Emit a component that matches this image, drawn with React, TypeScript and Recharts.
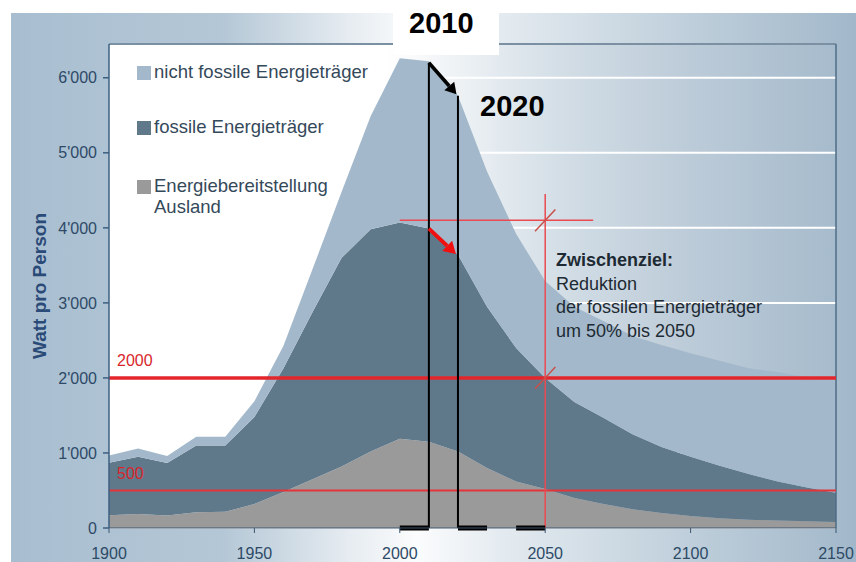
import { AreaChart, Area, XAxis, YAxis, CartesianGrid, ReferenceLine, Legend } from 'recharts';

// Watt pro Person, one point every 10 years
const years = [
  1900, 1910, 1920, 1930, 1940, 1950, 1960, 1970, 1980, 1990, 2000, 2010, 2020,
  2030, 2040, 2050, 2060, 2070, 2080, 2090, 2100, 2110, 2120, 2130, 2140, 2150,
];
const auslandValues = [
  170, 185, 165, 210, 215, 320, 480, 650, 820, 1020, 1190, 1150, 1020,
  800, 620, 520, 400, 320, 250, 200, 160, 130, 110, 100, 90, 80,
];
const fossilValues = [
  700, 765, 700, 890, 885, 1160, 1650, 2230, 2780, 2960, 2880, 2840, 2620,
  2150, 1780, 1480, 1280, 1150, 1000, 880, 790, 700, 610, 520, 450, 390,
];
const nichtFossilValues = [
  95, 110, 95, 115, 115, 210, 300, 570, 880, 1510, 2190, 2230, 2120,
  1800, 1520, 1290, 1270, 1290, 1310, 1360, 1380, 1400, 1410, 1460, 1470, 1510,
];

const xTicks = [1900, 1950, 2000, 2050, 2100, 2150];
const yTicks = [0, 1000, 2000, 3000, 4000, 5000, 6000];
const yMax = 6450;

// targets / annotations
const target2000 = 2000;
const target500 = 500;
const fossilPeak = 4100;
const year2010 = 2010;
const year2020 = 2020;
const year2050 = 2050;

const data = years.map((year, i) => ({
  year,
  ausland: auslandValues[i],
  fossil: fossilValues[i],
  nichtFossil: nichtFossilValues[i],
}));

const series = [
  { key: 'ausland', name: 'Energiebereitstellung Ausland', color: '#9b9a9a' },
  { key: 'fossil', name: 'fossile Energieträger', color: '#5f798b' },
  { key: 'nichtFossil', name: 'nicht fossile Energieträger', color: '#a3b9cb' },
];

const FONT = "'Liberation Sans', Arial, sans-serif";
const RED = '#e3262c';

const fmt = (v: number) => String(v).replace(/\B(?=(\d{3})+(?!\d))/g, "'");

function arrowShape(color: string, width: number, head: number) {
  return (p: any) => {
    const { x1, y1, x2, y2 } = p;
    const a = Math.atan2(y2 - y1, x2 - x1);
    const bx = x2 - head * Math.cos(a);
    const by = y2 - head * Math.sin(a);
    const w = head * 0.6;
    const pts = [
      [x2, y2],
      [bx + w * Math.sin(a), by - w * Math.cos(a)],
      [bx - w * Math.sin(a), by + w * Math.cos(a)],
    ]
      .map((q) => q.join(','))
      .join(' ');
    return (
      <g>
        <line x1={x1} y1={y1} x2={bx} y2={by} stroke={color} strokeWidth={width} />
        <polygon points={pts} fill={color} />
      </g>
    );
  };
}

const redLabel = (text: string, dy: number) => (props: any) => {
  const vb = props.viewBox || {};
  return (
    <text x={vb.x + 8} y={vb.y + dy} fill="#d8262c" fontSize={16} fontFamily={FONT}>
      {text}
    </text>
  );
};

const legendRows = [
  { name: 'nicht fossile Energieträger', color: '#a3b9cb', height: 55 },
  { name: 'fossile Energieträger', color: '#5f798b', height: 59 },
  { name: 'Energiebereitstellung\nAusland', color: '#9b9a9a', height: 44 },
];

function LegendContent() {
  return (
    <div style={{ fontFamily: FONT, fontSize: 18.5, lineHeight: '21px', color: '#34495a' }}>
      {legendRows.map((r) => (
        <div key={r.name} style={{ display: 'flex', alignItems: 'flex-start', height: r.height }}>
          <div style={{ width: 14, height: 14, marginTop: 5, marginRight: 3, background: r.color }} />
          <div style={{ whiteSpace: 'pre' }}>{r.name}</div>
        </div>
      ))}
    </div>
  );
}

export default function App() {
  return (
    <div style={{ position: 'absolute', left: 0, top: 0, width: 856, height: 562, background: '#fff', overflow: 'hidden' }}>
      <div
        style={{
          position: 'absolute',
          left: 11,
          top: 13,
          width: 845,
          height: 549,
          background:
            'linear-gradient(90deg, #a8bed0 0%, #b4c7d6 25%, #e6ecf1 40%, #fbfcfd 48%, #e4ebf0 58%, #bfcfdb 80%, #a2b8ca 100%)',
        }}
      />
      <div style={{ position: 'absolute', left: 0, top: 0 }}>
        <AreaChart width={856} height={562} data={data} margin={{ top: 44, right: 20, bottom: 0, left: 49 }}>
          <defs>
            <linearGradient id="plotBg" x1="0" y1="0" x2="1" y2="0">
              <stop offset="0%" stopColor="#ffffff" />
              <stop offset="38%" stopColor="#ffffff" />
              <stop offset="48%" stopColor="#eef2f5" />
              <stop offset="62%" stopColor="#d3dee6" />
              <stop offset="80%" stopColor="#bccbd8" />
              <stop offset="100%" stopColor="#a6bbcc" />
            </linearGradient>
          </defs>
          <CartesianGrid vertical={false} stroke="#ffffff" strokeWidth={2} fill="url(#plotBg)" fillOpacity={1} />
          <XAxis
            dataKey="year"
            type="number"
            domain={[1900, 2150]}
            ticks={xTicks}
            height={34}
            tickSize={5}
            tickMargin={15}
            stroke="#3d566e"
            tick={{ fill: '#2d4a66', fontSize: 16, fontFamily: FONT }}
          />
          <YAxis
            type="number"
            domain={[0, yMax]}
            ticks={yTicks}
            width={60}
            tickSize={6}
            tickMargin={6}
            tickFormatter={fmt}
            stroke="#3c5f80"
            strokeWidth={1.5}
            tick={{ fill: '#2e4a68', fontSize: 16, fontFamily: FONT }}
            label={(props: any) => {
              const vb = props.viewBox || {};
              const cx = vb.x - 10;
              const cy = vb.y + vb.height / 2;
              return (
                <text
                  x={cx}
                  y={cy}
                  transform={`rotate(-90, ${cx}, ${cy})`}
                  textAnchor="middle"
                  dominantBaseline="central"
                  fill="#2a4a78"
                  fontSize={19}
                  fontWeight="bold"
                  fontFamily={FONT}
                >
                  Watt pro Person
                </text>
              );
            }}
          />
          <Legend
            layout="horizontal"
            verticalAlign="middle"
            align="center"
            wrapperStyle={{ left: 137, top: 61, width: 260, height: 160 }}
            content={() => <LegendContent />}
          />
          {series.map((s) => (
            <Area
              key={s.key}
              dataKey={s.key}
              name={s.name}
              stackId="1"
              type="linear"
              stroke="none"
              fill={s.color}
              fillOpacity={1}
              isAnimationActive={false}
            />
          ))}

          {/* plot frame top and right */}
          <ReferenceLine y={yMax} stroke="#4f6c84" strokeWidth={1.5} />
          <ReferenceLine x={2150} stroke="#4f6c84" strokeWidth={1.5} />

          {/* red target lines */}
          <ReferenceLine y={target500} stroke="#e3343a" strokeWidth={2} label={redLabel('500', -11)} />
          <ReferenceLine y={target2000} stroke={RED} strokeWidth={3.5} label={redLabel('2000', -12)} />
          <ReferenceLine
            segment={[{ x: year2050, y: 0 }, { x: year2050, y: 4450 }]}
            stroke="#ea4a50"
            strokeWidth={1.5}
          />
          <ReferenceLine
            segment={[{ x: 2000, y: fossilPeak }, { x: 2066.5, y: fossilPeak }]}
            stroke="#ea4a50"
            strokeWidth={1.5}
          />
          <ReferenceLine
            segment={[{ x: year2050 - 3.5, y: fossilPeak - 145 }, { x: year2050 + 3.5, y: fossilPeak + 145 }]}
            stroke="#c9504a"
            strokeWidth={1.5}
          />
          <ReferenceLine
            segment={[{ x: year2050 - 3.5, y: target2000 - 145 }, { x: year2050 + 3.5, y: target2000 + 145 }]}
            stroke="#c9504a"
            strokeWidth={1.5}
          />

          {/* black markers 2010 / 2020 */}
          <ReferenceLine segment={[{ x: year2010, y: 0 }, { x: year2010, y: 6200 }]} stroke="#000" strokeWidth={2} />
          <ReferenceLine segment={[{ x: year2020, y: 0 }, { x: year2020, y: 5760 }]} stroke="#000" strokeWidth={2} />
          <ReferenceLine
            segment={[{ x: year2010, y: 6200 }, { x: 2019.5, y: 5780 }]}
            shape={arrowShape('#000', 3.5, 11)}
          />
          <ReferenceLine
            segment={[{ x: year2010, y: 3990 }, { x: 2019.3, y: 3650 }]}
            shape={arrowShape('#f01010', 4, 12)}
          />
          <ReferenceLine segment={[{ x: 2000, y: 0 }, { x: 2010, y: 0 }]} stroke="#000" strokeWidth={5} />
          <ReferenceLine segment={[{ x: 2020, y: 0 }, { x: 2030, y: 0 }]} stroke="#000" strokeWidth={5} />
          <ReferenceLine segment={[{ x: 2040, y: 0 }, { x: 2050, y: 0 }]} stroke="#000" strokeWidth={5} />
        </AreaChart>
      </div>

      {/* year labels */}
      <div style={{ position: 'absolute', left: 393, top: 0, width: 106, height: 55, background: '#fff' }} />
      <div
        style={{
          position: 'absolute',
          left: 409,
          top: 8.5,
          fontFamily: FONT,
          fontSize: 29,
          lineHeight: '29px',
          fontWeight: 'bold',
          color: '#000',
        }}
      >
        2010
      </div>
      <div
        style={{
          position: 'absolute',
          left: 480,
          top: 91.5,
          fontFamily: FONT,
          fontSize: 29,
          lineHeight: '29px',
          fontWeight: 'bold',
          color: '#000',
        }}
      >
        2020
      </div>

      {/* Zwischenziel */}
      <div
        style={{
          position: 'absolute',
          left: 556,
          top: 249,
          fontFamily: FONT,
          fontSize: 18,
          lineHeight: '23.7px',
          color: '#1e2a33',
          whiteSpace: 'pre',
        }}
      >
        <div style={{ fontWeight: 'bold' }}>Zwischenziel:</div>
        <div>Reduktion</div>
        <div>der fossilen Energieträger</div>
        <div>um 50% bis 2050</div>
      </div>
    </div>
  );
}
